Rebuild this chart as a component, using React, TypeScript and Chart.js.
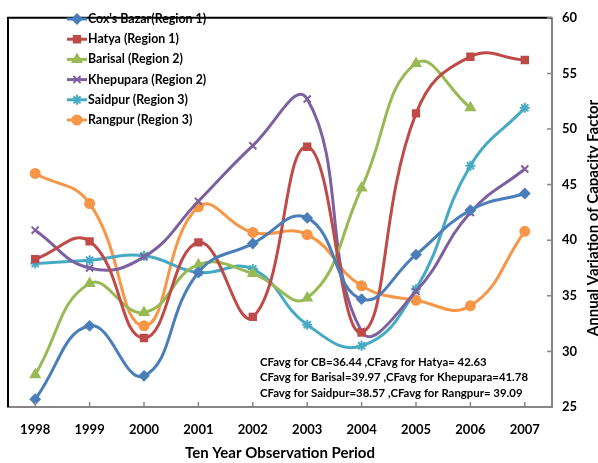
import React, { useEffect, useRef } from 'react';
import { Chart, registerables } from 'chart.js';
import { drawPoint } from 'chart.js/helpers';

Chart.register(...registerables);

const years = ['1998', '1999', '2000', '2001', '2002', '2003', '2004', '2005', '2006', '2007'];

const coxsBazar = [25.7, 32.3, 27.8, 37.1, 39.7, 42.0, 34.7, 38.7, 42.7, 44.2];
const hatya = [38.3, 39.9, 31.2, 39.8, 33.1, 48.4, 31.7, 51.4, 56.5, 56.2];
const barisal = [27.9, 36.1, 33.5, 37.8, 37.0, 34.8, 44.7, 55.9, 51.9, null];
const khepupara = [40.9, 37.5, 38.5, 43.5, 48.5, 52.7, 31.8, 35.4, 42.5, 46.4];
const saidpur = [37.9, 38.2, 38.6, 37.1, 37.4, 32.4, 30.5, 35.6, 46.7, 51.9];
const rangpur = [46.0, 43.3, 32.3, 43.0, 40.7, 40.5, 35.9, 34.6, 34.1, 40.8];

const seriesNames = [
  "Cox's Bazar(Region 1)",
  'Hatya (Region 1)',
  'Barisal (Region 2)',
  'Khepupara (Region 2)',
  'Saidpur (Region 3)',
  'Rangpur (Region 3)',
];
const seriesData = [coxsBazar, hatya, barisal, khepupara, saidpur, rangpur];
const seriesColors = ['#4A7EBB', '#BE4B48', '#98B954', '#7D60A0', '#46AAC5', '#F79646'];
const seriesMarkers = ['rectRot', 'rect', 'triangle', 'crossRot', 'star', 'circle'];
const markerSizes = [4.5, 4.5, 5, 5, 5, 4.5];

const avgLines = [
  'CFavg for CB=36.44 ,CFavg for Hatya= 42.63',
  'CFavg for Barisal=39.97 ,CFavg for Khepupara=41.78',
  'CFavg for Saidpur=38.57 ,CFavg for Rangpur= 39.09',
];
const yTitle = 'Annual Variation of Capacity Factor';
const xTitle = 'Ten Year Observation Period';

const FONT = 'Lato, "Open Sans", sans-serif';

export default function App() {
  const ref = useRef<HTMLCanvasElement>(null);

  useEffect(() => {
    document.body.style.margin = '0';
    const overlay = {
      id: 'overlay',
      afterDraw(chart: any) {
        const { ctx, chartArea: a, scales } = chart;
        ctx.save();
        // top / left frame
        ctx.strokeStyle = '#000';
        ctx.lineWidth = 2;
        ctx.beginPath();
        ctx.moveTo(a.left, a.bottom);
        ctx.lineTo(a.left, a.top);
        ctx.lineTo(a.right, a.top);
        ctx.stroke();
        // inward ticks
        ctx.strokeStyle = '#868686';
        ctx.lineWidth = 1.5;
        ctx.beginPath();
        scales.y.ticks.forEach((t: any) => {
          const py = scales.y.getPixelForValue(t.value);
          ctx.moveTo(a.right - 5, py);
          ctx.lineTo(a.right, py);
        });
        scales.x.ticks.forEach((_t: any, i: number) => {
          const px = scales.x.getPixelForTick(i);
          ctx.moveTo(px, a.bottom - 5);
          ctx.lineTo(px, a.bottom);
        });
        ctx.stroke();
        // legend
        chart.data.datasets.forEach((ds: any, i: number) => {
          const y = 19 + i * 20.2;
          ctx.strokeStyle = ds.borderColor;
          ctx.fillStyle = ds.borderColor;
          ctx.lineWidth = 3;
          ctx.beginPath();
          ctx.moveTo(67, y);
          ctx.lineTo(87, y);
          ctx.stroke();
          ctx.lineWidth = 2;
          drawPoint(ctx, { pointStyle: ds.pointStyle, rotation: 0, radius: ds.pointRadius, borderWidth: 2 }, 77, y);
          ctx.fillStyle = '#000';
          ctx.font = `bold 12.4px ${FONT}`;
          ctx.textAlign = 'left';
          ctx.textBaseline = 'middle';
          ctx.fillText(ds.label, 88, y);
        });
        // averages
        ctx.fillStyle = '#000';
        ctx.font = `bold 11.4px ${FONT}`;
        ctx.textAlign = 'left';
        ctx.textBaseline = 'middle';
        avgLines.forEach((s, i) => ctx.fillText(s, 260, 362 + i * 15.5));
        // x title
        ctx.font = `bold 15px ${FONT}`;
        ctx.textAlign = 'center';
        ctx.fillText(xTitle, 280, 453);
        // y title
        ctx.translate(598, 218);
        ctx.rotate(-Math.PI / 2);
        ctx.textBaseline = 'alphabetic';
        ctx.fillText(yTitle, 0, 0);
        ctx.restore();
      },
    };

    const chart = new Chart(ref.current as HTMLCanvasElement, {
      type: 'line',
      data: {
        labels: years,
        datasets: seriesNames.map((name, i) => ({
          label: name,
          data: seriesData[i],
          borderColor: seriesColors[i],
          backgroundColor: seriesColors[i],
          pointBackgroundColor: seriesColors[i],
          pointBorderColor: seriesColors[i],
          pointStyle: seriesMarkers[i],
          pointRadius: markerSizes[i],
          pointBorderWidth: 2,
          borderWidth: 3,
          tension: 0.45,
          fill: false,
          spanGaps: false,
        })),
      },
      options: {
        responsive: false,
        animation: false,
        events: [],
        layout: { padding: { left: 8, top: 10, right: 0, bottom: 0 } },
        plugins: { legend: { display: false }, tooltip: { enabled: false } },
        scales: {
          x: {
            type: 'category',
            offset: true,
            grid: { drawOnChartArea: false, drawTicks: false, offset: false },
            border: { color: '#868686', width: 2 },
            ticks: { color: '#000', padding: 15, maxRotation: 0, font: { family: FONT, size: 13, weight: 'bold' } },
            afterFit: (s: any) => { s.height = 56; },
          },
          y: {
            position: 'right',
            min: 25,
            max: 60,
            grid: { drawOnChartArea: false, drawTicks: false },
            border: { color: '#868686', width: 2 },
            ticks: { stepSize: 5, color: '#000', padding: 10, font: { family: FONT, size: 13, weight: 'bold' } },
            afterFit: (s: any) => { s.width = 46; },
          },
        },
      },
      plugins: [overlay],
    } as any);
    return () => chart.destroy();
  }, []);

  return (
    <div style={{ width: 598, height: 463 }}>
      <canvas ref={ref} width={598} height={463} style={{ display: 'block' }} />
    </div>
  );
}
